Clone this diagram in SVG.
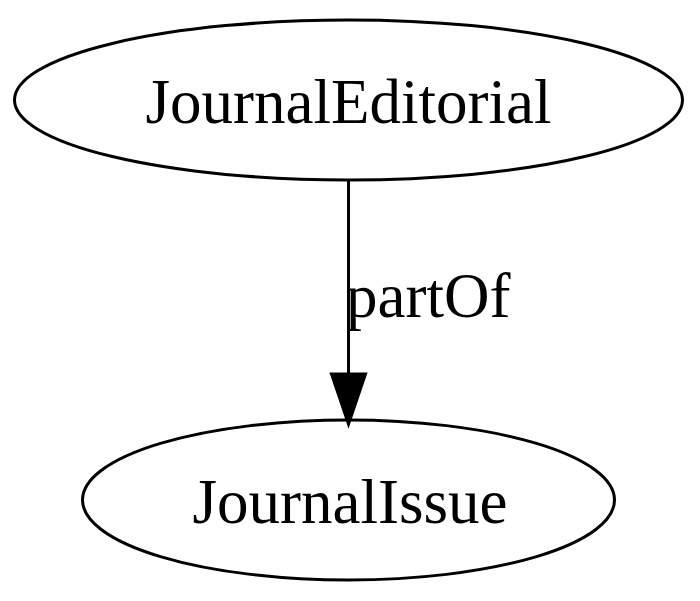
<svg xmlns="http://www.w3.org/2000/svg" width="700" height="601" viewBox="0 0 700 601">
<style>
.n ellipse{fill:none;stroke:#000;stroke-width:3}
text{font-family:"Liberation Serif","Times New Roman",serif;font-size:63px;fill:#000}
</style>
<rect width="700" height="601" fill="#fff"/>
<g id="node1" class="n">
<ellipse cx="348.5" cy="100" rx="334" ry="80"/>
<text x="348.5" y="123" text-anchor="middle">JournalEditorial</text>
</g>
<g id="node2" class="n">
<ellipse cx="348.5" cy="500" rx="266" ry="80"/>
<text x="350" y="523" text-anchor="middle">JournalIssue</text>
</g>
<g id="edges">
<path d="M348.5,180 L348.5,374" stroke="#000" stroke-width="3" fill="none"/>
<path d="M331.5,374 L365.5,374 L348.5,424 Z" fill="#000" stroke="#000" stroke-width="3"/>
<text x="346" y="317">partOf</text>
</g>
</svg>
